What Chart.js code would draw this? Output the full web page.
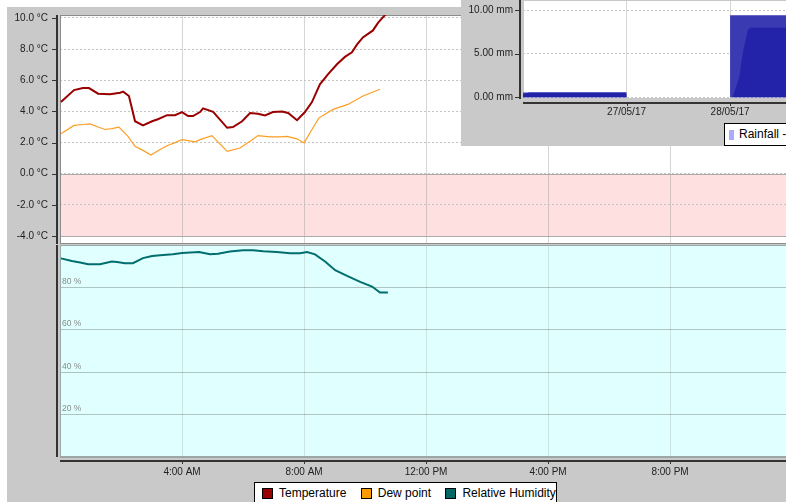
<!DOCTYPE html>
<html>
<head>
<meta charset="utf-8">
<script src="https://cdn.jsdelivr.net/npm/chart.js@4.4.1/dist/chart.umd.min.js"></script>
<style>
    html, body { margin: 0; padding: 0; background: #fff; }
    #stage { position: relative; width: 786px; height: 502px; overflow: hidden; font-family: 'Liberation Sans', Arial, sans-serif; }
    #panel { position: absolute; left: 7px; top: 7px; width: 779px; height: 495px; background: #c9c9c9; }
    canvas { position: absolute; display: block; }
    #tempChart { left: 7px; top: 7px; }
    #humChart { left: 7px; top: 244px; }
    #rainBox { position: absolute; left: 461px; top: 0; width: 325px; height: 146px; background: #c9c9c9; overflow: hidden; }
    #rainChart { left: 0; top: 0; }
    .legend { position: absolute; background: #fff; border: 1px solid #000; font-size: 12px; color: #000; white-space: nowrap; box-sizing: border-box; }
    #mainLegend { left: 254px; top: 482px; width: 303px; height: 30px; padding: 4px 0 0 7px; }
    #rainLegend { left: 263px; top: 123px; width: 90px; height: 23px; padding: 4px 0 0 4px; }
    .legend-item { display: inline-flex; align-items: center; margin-right: 11px; line-height: 13px; }
    .legend-swatch { display: inline-block; width: 9px; height: 9px; border: 1px solid #000; margin-right: 6px; }
    #rainLegend .legend-swatch { width: 5px; height: 10px; border: none; margin-right: 5px; }
</style>
</head>
<body>
<div id="stage">
    <div id="panel"></div>
    <canvas id="tempChart" width="779" height="237"></canvas>
    <canvas id="humChart" width="779" height="258"></canvas>
    <div id="mainLegend" class="legend"></div>
    <div id="rainBox">
        <canvas id="rainChart" width="325" height="146"></canvas>
        <div id="rainLegend" class="legend"></div>
    </div>
</div>
<script>
// hours since midnight
const tempHours = [0.03, 0.46, 0.75, 0.95, 1.25, 1.64, 1.97, 2.07, 2.26, 2.46, 2.72, 3.02, 3.21, 3.51, 3.77, 4.0, 4.2, 4.36, 4.59, 4.69, 5.02, 5.48, 5.67, 5.97, 6.23, 6.49, 6.72, 6.98, 7.28, 7.48, 7.77, 8.03, 8.26, 8.52, 8.79, 9.08, 9.34, 9.57, 9.74, 9.93, 10.26, 10.43, 10.66, 10.75];
const tempValues = [4.6, 5.37, 5.5, 5.5, 5.14, 5.1, 5.2, 5.27, 4.99, 3.37, 3.1, 3.37, 3.5, 3.76, 3.76, 3.96, 3.7, 3.7, 3.96, 4.2, 3.98, 2.95, 3.0, 3.37, 3.9, 3.85, 3.74, 3.96, 4.0, 3.9, 3.44, 3.96, 4.6, 5.74, 6.39, 7.03, 7.5, 7.8, 8.3, 8.75, 9.2, 9.7, 10.2, 10.4];

const dewHours = [0.03, 0.46, 0.75, 0.98, 1.25, 1.48, 1.70, 1.93, 2.23, 2.46, 2.72, 2.98, 3.28, 3.51, 3.77, 4.0, 4.2, 4.43, 4.59, 4.98, 5.48, 5.9, 6.23, 6.49, 6.89, 7.21, 7.44, 7.77, 8.0, 8.26, 8.49, 8.95, 9.44, 9.93, 10.49];
const dewValues = [2.56, 3.1, 3.16, 3.2, 3.0, 2.84, 2.9, 2.99, 2.4, 1.76, 1.5, 1.2, 1.55, 1.8, 2.0, 2.19, 2.13, 2.05, 2.19, 2.45, 1.44, 1.65, 2.08, 2.45, 2.37, 2.37, 2.4, 2.24, 1.98, 2.84, 3.59, 4.13, 4.45, 4.99, 5.42];

const humHours = [0.03, 0.39, 0.66, 0.92, 1.31, 1.70, 1.87, 2.13, 2.39, 2.72, 3.02, 3.38, 3.70, 4.0, 4.56, 4.92, 5.18, 5.57, 6.0, 6.33, 6.66, 7.11, 7.54, 7.87, 8.10, 8.36, 8.69, 9.02, 9.41, 9.84, 10.23, 10.49, 10.75];
const humValues = [93.7, 92.5, 91.7, 90.9, 90.9, 92.2, 92, 91.4, 91.4, 93.8, 94.8, 95.3, 95.6, 96.2, 96.7, 95.6, 95.9, 96.9, 97.5, 97.5, 97.0, 96.7, 96.1, 96.1, 96.7, 95.6, 92.2, 88.1, 85.4, 82.6, 80.4, 77.6, 77.6];

// rainfall window: days since 26/05/17
const rainDayLabels = ['26/05/17', '27/05/17', '28/05/17'];
const rainDays = [0, 1, 2, 2.6];
const rainTotals = [0.55, 0, 9.4, 9.4];
const rainCumDays = [0, 0.06, 0.995, 1.0, 2.026, 2.048, 2.09, 2.107, 2.129, 2.155, 2.171, 2.194, 2.6];
const rainCumValues = [0.35, 0.55, 0.55, 0, 0, 0.84, 2.36, 3.93, 5.42, 6.8, 7.71, 7.97, 7.97];

const HOURS_MAX = 23.8;

Chart.defaults.font.family = "'Liberation Sans', Arial, sans-serif";
Chart.defaults.font.size = 10;
Chart.defaults.color = '#333';

const toPoints = (xs, ys) => xs.map((x, i) => ({ x, y: ys[i] }));

function formatHour(h) {
    const hh = h % 12 === 0 ? 12 : h % 12;
    return `${hh}:00 ${h < 12 ? 'AM' : 'PM'}`;
}

// fixed axis sizes so the plots line up with the screenshot
const fixWidth = w => s => { s.width = w; s.paddingTop = 0; s.paddingBottom = 0; };
const fixHeight = h => s => { s.height = h; s.paddingLeft = 0; s.paddingRight = 0; };

const plotDeco = {
    id: 'plotDeco',
    beforeDraw(chart, args, opts) {
        const { ctx, chartArea: a } = chart;
        const y = chart.scales.y;
        ctx.save();
        ctx.fillStyle = opts.background;
        ctx.fillRect(a.left, a.top, a.width, a.height);
        if (opts.band) {
            const top = y.getPixelForValue(opts.band[1]);
            const bottom = y.getPixelForValue(opts.band[0]);
            ctx.fillStyle = opts.bandColor;
            ctx.fillRect(a.left, top, a.width, bottom - top);
        }
        ctx.restore();
    },
    beforeDatasetsDraw(chart, args, opts) {
        const { ctx, chartArea: a } = chart;
        const y = chart.scales.y;
        const x = chart.scales.x;
        ctx.save();
        if (opts.band) {
            ctx.fillStyle = '#ababab';
            opts.band.forEach(v => ctx.fillRect(a.left, Math.round(y.getPixelForValue(v)), a.width, 1));
        }
        ctx.strokeStyle = opts.outline;
        ctx.lineWidth = 1;
        ctx.strokeRect(a.left + 0.5, a.top + 0.5, a.width, a.height - 1);

        ctx.fillStyle = '#333';
        ctx.fillRect(a.left - 4, a.top, 2, a.height);
        if (opts.yTicks) {
            y.ticks.forEach(t => ctx.fillRect(a.left - 8, Math.round(y.getPixelForValue(t.value)), 4, 1));
        }
        if (opts.xAxis) {
            ctx.fillRect(a.left, a.bottom + 3, a.width, 2);
            x.ticks.forEach(t => {
                if (t.value > 0) ctx.fillRect(Math.round(x.getPixelForValue(t.value)), a.bottom + 5, 1, 2);
            });
        }
        ctx.restore();
    }
};

function baseOptions(padding, deco) {
    return {
        responsive: false,
        animation: false,
        devicePixelRatio: 1,
        events: [],
        layout: { padding },
        plugins: { legend: { display: false }, tooltip: { enabled: false }, plotDeco: deco }
    };
}

const tempOptions = baseOptions({ top: 8, left: 0, right: 0, bottom: 0 },
    { background: '#fff', band: [-4, 0], bandColor: '#ffe0e0', outline: '#8c8c8c', yTicks: true });
tempOptions.scales = {
    x: {
        type: 'linear', min: 0, max: HOURS_MAX,
        ticks: { display: false, stepSize: 4, includeBounds: false },
        grid: { color: 'rgba(128,128,128,0.32)', drawTicks: false },
        border: { display: false },
        afterFit: fixHeight(0)
    },
    y: {
        min: -4.51, max: 10.19,
        ticks: { stepSize: 2, includeBounds: false, padding: 12, color: '#222', callback: v => `${v.toFixed(1)} °C` },
        grid: { color: '#c4c4c4', drawTicks: false },
        border: { display: false, dash: [2, 2] },
        afterFit: fixWidth(53)
    }
};

new Chart(document.getElementById('tempChart'), {
    type: 'line',
    data: {
        datasets: [
            { label: 'Temperature', data: toPoints(tempHours, tempValues), borderColor: '#990000', borderWidth: 2, pointRadius: 0, clip: 0 },
            { label: 'Dew point', data: toPoints(dewHours, dewValues), borderColor: '#ff9d22', borderWidth: 1.2, pointRadius: 0, clip: 0 }
        ]
    },
    options: tempOptions,
    plugins: [plotDeco]
});

const humOptions = baseOptions({ top: 1, left: 0, right: 0, bottom: 0 },
    { background: '#e0ffff', outline: '#9aa8a8', xAxis: true });
humOptions.scales = {
    x: {
        type: 'linear', min: 0, max: HOURS_MAX,
        ticks: { stepSize: 4, includeBounds: false, padding: 9, maxRotation: 0, autoSkip: false, color: '#222', callback: v => v === 0 ? '' : formatHour(v) },
        grid: { color: 'rgba(128,128,128,0.22)', drawTicks: false },
        border: { display: false },
        afterFit: fixHeight(45)
    },
    y: {
        min: 0, max: 100,
        ticks: { stepSize: 20, mirror: true, padding: 2, labelOffset: -6, color: '#8a8a8a', font: { size: 8.5 }, callback: v => (v > 0 && v < 100) ? `${v} %` : '' },
        grid: { color: 'rgba(90,100,100,0.38)', drawTicks: false },
        border: { display: false },
        afterFit: fixWidth(53)
    }
};

new Chart(document.getElementById('humChart'), {
    type: 'line',
    data: {
        datasets: [
            { label: 'Relative Humidity', data: toPoints(humHours, humValues), borderColor: '#006e6e', borderWidth: 2, pointRadius: 0, clip: 0 }
        ]
    },
    options: humOptions,
    plugins: [plotDeco]
});

const rainOptions = baseOptions({ top: 0, left: 0, right: 0, bottom: 0 },
    { background: '#fff', outline: '#c8c8c8', yTicks: true, xAxis: true });
rainOptions.scales = {
    x: {
        type: 'linear', min: 0, max: 2.54,
        ticks: { stepSize: 1, includeBounds: false, padding: 7, maxRotation: 0, autoSkip: false, color: '#222', callback: v => v > 0 ? rainDayLabels[v] : '' },
        grid: { color: '#d6d6d6', drawTicks: false },
        border: { display: false },
        afterFit: fixHeight(47)
    },
    y: {
        min: -0.195, max: 11.15,
        ticks: { stepSize: 5, includeBounds: false, padding: 10, color: '#222', callback: v => `${v.toFixed(2)} mm` },
        grid: { color: '#c4c4c4', drawTicks: false },
        border: { display: false, dash: [2, 2] },
        afterFit: fixWidth(62)
    }
};

new Chart(document.getElementById('rainChart'), {
    type: 'line',
    data: {
        datasets: [
            { label: 'Rainfall - accumulated', data: toPoints(rainCumDays, rainCumValues), borderWidth: 0, pointRadius: 0, fill: 'origin', backgroundColor: '#2323a9', order: 0 },
            { label: 'Rainfall -', data: toPoints(rainDays, rainTotals), stepped: true, borderWidth: 0, pointRadius: 0, fill: 'origin', backgroundColor: '#3a3ab2', order: 1 }
        ]
    },
    options: rainOptions,
    plugins: [plotDeco]
});

function renderLegend(el, items) {
    el.innerHTML = items.map(it => `
        <span class="legend-item"><span class="legend-swatch" style="background:${it.color}"></span>${it.label}</span>
    `).join('');
}

renderLegend(document.getElementById('mainLegend'), [
    { label: 'Temperature', color: '#990000' },
    { label: 'Dew point', color: '#ff9900' },
    { label: 'Relative Humidity', color: '#006666' }
]);
renderLegend(document.getElementById('rainLegend'), [
    { label: 'Rainfall -', color: '#aaaaff' }
]);
</script>
</body>
</html>
